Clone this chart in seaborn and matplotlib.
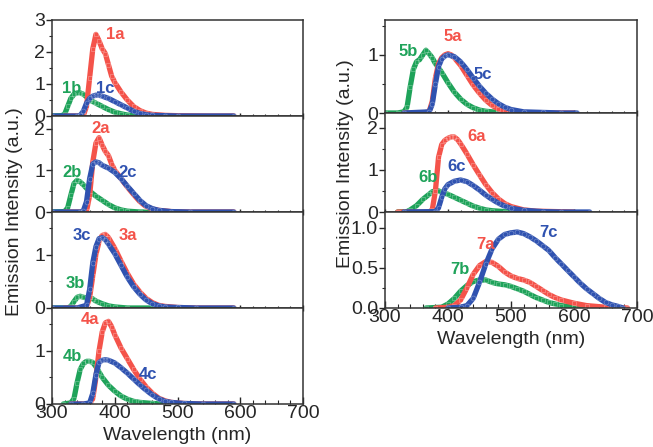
"""
Emission spectra of compounds 1-7 (a/b/c) in stacked panels.
"""

import matplotlib.pyplot as plt
from matplotlib.ticker import MultipleLocator
import seaborn as sns

sns.set_theme(style="ticks")
plt.rcParams["font.family"] = ["Liberation Sans", "DejaVu Sans"]

RED = "#f4534a"
GREEN = "#1fa35a"
BLUE = "#2f52b0"

# ── data (wavelength nm, intensity a.u.) ─────────────────────────────
wl_1a = [320, 340, 350, 355, 360, 365, 370, 375, 380, 385, 390, 395, 400, 410, 420, 430, 440, 450, 460, 480, 500, 550, 590]
i_1a = [0, 0, 0.02, 0.3, 1.2, 2.1, 2.55, 2.35, 2.1, 1.95, 1.6, 1.25, 1.05, 0.75, 0.5, 0.3, 0.17, 0.09, 0.05, 0.02, 0.01, 0, 0]
wl_1b = [300, 315, 320, 325, 330, 335, 340, 345, 350, 355, 360, 365, 370, 380, 390, 400, 410, 420, 440, 460, 500]
i_1b = [0, 0.01, 0.05, 0.3, 0.55, 0.68, 0.72, 0.72, 0.68, 0.6, 0.5, 0.45, 0.4, 0.3, 0.2, 0.12, 0.07, 0.03, 0.01, 0, 0]
wl_1c = [300, 340, 345, 350, 355, 360, 365, 370, 375, 380, 390, 400, 410, 420, 430, 440, 450, 460, 480, 500, 590]
i_1c = [0, 0, 0.02, 0.15, 0.4, 0.55, 0.62, 0.65, 0.65, 0.62, 0.55, 0.45, 0.35, 0.25, 0.15, 0.08, 0.04, 0.02, 0.01, 0, 0]

wl_2a = [320, 350, 355, 360, 365, 370, 375, 380, 385, 390, 395, 400, 410, 420, 430, 440, 450, 460, 470, 490, 520, 590]
i_2a = [0, 0, 0.02, 0.4, 1.2, 1.65, 1.78, 1.6, 1.45, 1.35, 1.15, 1.0, 0.8, 0.6, 0.42, 0.25, 0.13, 0.07, 0.04, 0.01, 0, 0]
wl_2b = [300, 320, 325, 330, 335, 340, 345, 350, 355, 360, 370, 380, 390, 400, 410, 420, 440, 500]
i_2b = [0, 0.01, 0.1, 0.4, 0.68, 0.76, 0.72, 0.65, 0.57, 0.5, 0.38, 0.28, 0.18, 0.1, 0.05, 0.02, 0, 0]
wl_2c = [300, 345, 350, 355, 360, 365, 370, 375, 380, 390, 400, 410, 420, 430, 440, 450, 460, 470, 490, 520, 590]
i_2c = [0, 0, 0.03, 0.25, 0.8, 1.15, 1.2, 1.18, 1.12, 1.05, 0.95, 0.8, 0.62, 0.45, 0.28, 0.15, 0.08, 0.04, 0.01, 0, 0]

wl_3a = [320, 340, 355, 360, 365, 370, 375, 380, 385, 390, 400, 410, 420, 430, 440, 450, 460, 470, 480, 500, 530, 590]
i_3a = [0, 0, 0.02, 0.2, 0.6, 1.0, 1.25, 1.36, 1.38, 1.32, 1.12, 0.88, 0.65, 0.45, 0.3, 0.18, 0.1, 0.05, 0.03, 0.01, 0, 0]
wl_3b = [300, 325, 330, 335, 340, 345, 350, 355, 360, 365, 370, 380, 390, 400, 420, 500]
i_3b = [0, 0, 0.03, 0.12, 0.2, 0.22, 0.2, 0.19, 0.2, 0.17, 0.13, 0.08, 0.04, 0.02, 0, 0]
wl_3c = [300, 340, 355, 360, 365, 370, 375, 380, 385, 390, 400, 410, 420, 430, 440, 450, 460, 470, 480, 500, 530, 590]
i_3c = [0, 0, 0.05, 0.35, 0.85, 1.15, 1.3, 1.32, 1.28, 1.2, 1.02, 0.8, 0.58, 0.4, 0.26, 0.15, 0.08, 0.04, 0.02, 0.01, 0, 0]

wl_4a = [330, 350, 360, 365, 370, 375, 380, 385, 390, 395, 400, 410, 420, 430, 440, 450, 460, 470, 480, 490, 510, 540, 590]
i_4a = [0, 0, 0.01, 0.1, 0.5, 1.0, 1.35, 1.52, 1.55, 1.45, 1.3, 1.05, 0.85, 0.65, 0.47, 0.32, 0.2, 0.11, 0.06, 0.03, 0.01, 0, 0]
wl_4b = [318, 330, 335, 340, 345, 350, 355, 360, 365, 370, 375, 380, 390, 400, 410, 420, 430, 440, 460, 480]
i_4b = [0, 0.02, 0.1, 0.4, 0.65, 0.76, 0.8, 0.8, 0.78, 0.7, 0.6, 0.5, 0.35, 0.24, 0.15, 0.09, 0.05, 0.03, 0.01, 0]
wl_4c = [330, 350, 360, 365, 370, 375, 380, 385, 390, 400, 410, 420, 430, 440, 450, 460, 470, 480, 490, 510, 540, 590]
i_4c = [0, 0, 0.02, 0.2, 0.55, 0.78, 0.82, 0.83, 0.82, 0.77, 0.68, 0.58, 0.47, 0.36, 0.26, 0.17, 0.1, 0.05, 0.03, 0.01, 0, 0]

wl_5a = [330, 360, 370, 375, 380, 385, 390, 395, 400, 405, 410, 420, 430, 440, 450, 460, 470, 480, 490, 510, 540, 600]
i_5a = [0, 0, 0.02, 0.2, 0.6, 0.85, 0.95, 1.0, 1.02, 1.0, 0.95, 0.82, 0.65, 0.48, 0.34, 0.22, 0.13, 0.07, 0.04, 0.01, 0, 0]
wl_5b = [300, 320, 330, 335, 340, 345, 350, 355, 360, 365, 370, 375, 380, 390, 400, 410, 420, 430, 440, 450, 460, 480, 500]
i_5b = [0, 0, 0.02, 0.1, 0.45, 0.75, 0.88, 0.92, 1.0, 1.08, 1.02, 0.95, 0.85, 0.7, 0.52, 0.36, 0.24, 0.15, 0.09, 0.05, 0.03, 0.01, 0]
wl_5c = [330, 370, 375, 380, 385, 390, 395, 400, 410, 420, 430, 440, 450, 460, 470, 480, 490, 500, 520, 550, 580, 605]
i_5c = [0, 0.02, 0.15, 0.5, 0.8, 0.93, 0.98, 1.0, 0.97, 0.88, 0.75, 0.6, 0.46, 0.34, 0.24, 0.16, 0.1, 0.06, 0.02, 0.01, 0, 0]

wl_6a = [320, 370, 375, 380, 385, 390, 395, 400, 405, 410, 415, 420, 430, 440, 450, 460, 470, 480, 490, 500, 520, 540, 570, 600]
i_6a = [0, 0, 0.05, 0.5, 1.3, 1.6, 1.7, 1.75, 1.78, 1.78, 1.72, 1.62, 1.38, 1.12, 0.88, 0.65, 0.46, 0.31, 0.2, 0.13, 0.05, 0.02, 0.01, 0]
wl_6b = [320, 335, 340, 350, 360, 370, 375, 380, 385, 390, 400, 410, 420, 430, 440, 450, 460, 470, 490, 510]
i_6b = [0, 0.01, 0.05, 0.15, 0.3, 0.42, 0.48, 0.5, 0.5, 0.47, 0.42, 0.35, 0.28, 0.21, 0.14, 0.09, 0.05, 0.03, 0.01, 0]
wl_6c = [330, 380, 385, 390, 395, 400, 410, 420, 430, 440, 450, 460, 470, 480, 490, 500, 520, 550, 580, 625]
i_6c = [0, 0.01, 0.1, 0.35, 0.55, 0.65, 0.73, 0.76, 0.72, 0.63, 0.52, 0.4, 0.3, 0.21, 0.14, 0.09, 0.04, 0.01, 0, 0]

wl_7a = [380, 400, 410, 420, 430, 440, 450, 460, 470, 480, 490, 500, 510, 520, 530, 540, 550, 560, 570, 580, 600, 620, 650, 685]
i_7a = [0, 0.01, 0.03, 0.1, 0.25, 0.42, 0.53, 0.58, 0.57, 0.52, 0.45, 0.4, 0.37, 0.35, 0.32, 0.27, 0.22, 0.17, 0.13, 0.1, 0.06, 0.03, 0.01, 0]
wl_7b = [365, 390, 400, 410, 420, 430, 440, 450, 460, 470, 480, 490, 500, 510, 520, 530, 540, 550, 560, 570, 580, 600, 620, 645]
i_7b = [0, 0.01, 0.05, 0.12, 0.21, 0.28, 0.33, 0.35, 0.35, 0.32, 0.3, 0.29, 0.27, 0.24, 0.21, 0.17, 0.13, 0.1, 0.07, 0.05, 0.03, 0.01, 0, 0]
wl_7c = [400, 420, 430, 440, 450, 460, 470, 480, 490, 500, 510, 520, 530, 540, 550, 560, 570, 580, 590, 600, 610, 620, 630, 640, 650, 660, 670, 678]
i_7c = [0, 0.01, 0.03, 0.12, 0.32, 0.55, 0.74, 0.86, 0.92, 0.94, 0.95, 0.93, 0.89, 0.84, 0.78, 0.72, 0.63, 0.55, 0.47, 0.39, 0.31, 0.24, 0.18, 0.12, 0.07, 0.04, 0.02, 0]

# panel label text and where it sits (wavelength, intensity)
labels = {
    "1": [("1a", 400, 2.56), ("1b", 332, 0.87), ("1c", 385, 0.87)],
    "2": [("2a", 377, 2.0), ("2b", 332, 0.95), ("2c", 421, 0.95)],
    "3": [("3a", 421, 1.36), ("3b", 337, 0.45), ("3c", 347, 1.36)],
    "4": [("4a", 360, 1.58), ("4b", 332, 0.89), ("4c", 453, 0.55)],
    "5": [("5a", 408, 1.31), ("5b", 337, 1.05), ("5c", 456, 0.66)],
    "6": [("6a", 446, 1.79), ("6b", 368, 0.83), ("6c", 414, 1.07)],
    "7": [("7a", 459, 0.79), ("7b", 419, 0.48), ("7c", 559, 0.94)],
}

series = {
    "1": [(wl_1b, i_1b), (wl_1a, i_1a), (wl_1c, i_1c)],
    "2": [(wl_2b, i_2b), (wl_2a, i_2a), (wl_2c, i_2c)],
    "3": [(wl_3b, i_3b), (wl_3a, i_3a), (wl_3c, i_3c)],
    "4": [(wl_4b, i_4b), (wl_4a, i_4a), (wl_4c, i_4c)],
    "5": [(wl_5b, i_5b), (wl_5a, i_5a), (wl_5c, i_5c)],
    "6": [(wl_6b, i_6b), (wl_6a, i_6a), (wl_6c, i_6c)],
    "7": [(wl_7b, i_7b), (wl_7a, i_7a), (wl_7c, i_7c)],
}
ylims = {"1": 3.0, "2": 2.3, "3": 1.8, "4": 1.8, "5": 1.6, "6": 2.35, "7": 1.2}

W, H = 653, 447
fig = plt.figure(figsize=(W / 100, H / 100), dpi=100)


def rect(x0, x1, top, bot):
    return [x0 / W, 1 - bot / H, (x1 - x0) / W, (bot - top) / H]


# pixel frames of every panel
frames = {
    "1": (52, 303, 20, 116), "2": (52, 303, 116, 212),
    "3": (52, 303, 212, 308), "4": (52, 303, 308, 404),
    "5": (385, 637, 20, 113), "6": (385, 637, 113, 212),
    "7": (385, 637, 212, 308),
}
bottoms = {"4", "7"}
styles = [(GREEN, "s"), (RED, "s"), (BLUE, "o")]
FS = 14

for key, fr in frames.items():
    ax = fig.add_axes(rect(*fr))
    for (x, y), (c, m) in zip(series[key], styles):
        sns.lineplot(x=x, y=y, ax=ax, color=c, lw=3.8, marker=m, markersize=3.5,
                     markerfacecolor="none", markeredgecolor=(1, 1, 1, 0.35),
                     markeredgewidth=0.5)
    for text, lx, ly in labels[key]:
        c = {"a": RED, "b": GREEN, "c": BLUE}[text[1]]
        ax.text(lx, ly, text, color=c, fontsize=12, fontweight="bold",
                ha="center", va="center")
    ax.set_xlim(300, 700)
    ax.set_ylim(0, ylims[key])
    ax.xaxis.set_major_locator(MultipleLocator(100))
    ax.xaxis.set_minor_locator(MultipleLocator(20))
    if key == "7":
        ax.yaxis.set_major_locator(MultipleLocator(0.5))
        ax.yaxis.set_minor_locator(MultipleLocator(0.25))
        ax.yaxis.set_major_formatter("{x:.1f}")
    else:
        ax.yaxis.set_major_locator(MultipleLocator(1))
        ax.yaxis.set_minor_locator(MultipleLocator(0.5))
        ax.yaxis.set_major_formatter("{x:.0f}")
    xdir = "in" if key in bottoms else "inout"
    ax.tick_params(axis="x", which="major", direction=xdir, length=5, width=1, labelsize=FS, pad=1)
    ax.tick_params(axis="x", which="minor", direction=xdir, length=3, width=0.8)
    ax.tick_params(axis="y", which="major", direction="out", length=4, width=1, labelsize=FS, pad=1)
    ax.tick_params(axis="y", which="minor", direction="out", length=2.5, width=0.8)
    if key not in bottoms:
        ax.tick_params(axis="x", labelbottom=False)
    ax.set_xlabel("Wavelength (nm)" if key in bottoms else "", fontsize=FS, labelpad=3)
    ax.set_ylabel("")
    for sp in ax.spines.values():
        sp.set_linewidth(1.1)
        sp.set_color("#333333")
        sp.set_visible(True)

fig.text(15 / W, 1 - 212 / H, "Emission Intensity (a.u.)", rotation=90,
         ha="center", va="center", fontsize=FS)
fig.text(345 / W, 1 - 164 / H, "Emission Intensity (a.u.)", rotation=90,
         ha="center", va="center", fontsize=FS)

fig.savefig("out.png", dpi=100)
